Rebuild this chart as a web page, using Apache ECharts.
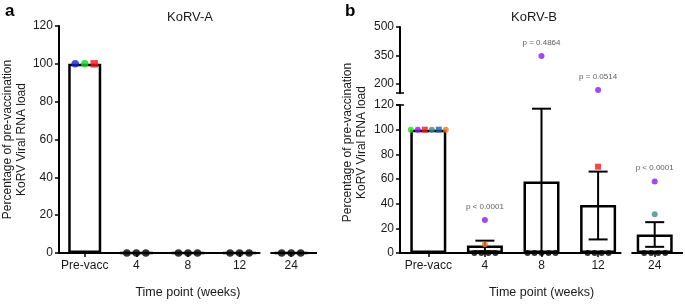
<!DOCTYPE html>
<html>
<head>
<meta charset="utf-8">
<script src="https://cdn.jsdelivr.net/npm/echarts@6/dist/echarts.min.js"></script>
<style>
  html, body { margin: 0; padding: 0; background: #fff; }
  #main { width: 685px; height: 304px; }
</style>
</head>
<body>
<div id="main"></div>
<script>
// categories (time points)
var categories = ['Pre-vacc', '4', '8', '12', '24'];

// KoRV-A : 3 animals, bar = mean
var meanA = [100, 0, 0, 0, 0];
var valuesA = [
    [100, 100, 100],
    [0, 0, 0],
    [0, 0, 0],
    [0, 0, 0],
    [0, 0, 0]
];

// KoRV-B : 6 animals, bar = mean, whiskers = SEM
var meanB = [100, 6, 58, 39, 15];
var semLowB = [null, 1.3, 0, 11, 5];
var semHighB = [null, 10, 117, 66, 25];
var valuesB = [
    [100, 100, 100, 100, 100, 100],
    [0, 26.7, 0, 0, 0, 7],
    [0, 347, 0, 0, 0, 0],
    [0, 168, 70, 0, 0, 0],
    [0, 58, 0, 31.4, 0, 0]
];
var pValuesB = [null, 'p < 0.0001', 'p = 0.4864', 'p = 0.0514', 'p < 0.0001'];

var ticksUpperB = [200, 350, 500];

// per-animal marker styles
var colorsA = ['#1020e0', '#12d424', '#f01414'];
var shapesA = ['circle', 'circle', 'rect'];
var colorsB = ['#22dd22', '#8a1af0', '#f01818', '#3c8c8c', '#1a5fb0', '#f07828'];
var shapesB = ['circle', 'circle', 'rect', 'circle', 'rect', 'circle'];

var FONT = 'Liberation Sans, Arial, sans-serif';
var TXT = '#1a1a1a';

// spread equal values side by side, like the GraphPad dot plot
function buildPoints(values, colors, shapes, spacing, size, filter) {
    var out = [];
    values.forEach(function (row, ci) {
        var groups = {};
        row.forEach(function (v, ai) {
            (groups[v] = groups[v] || []).push(ai);
        });
        Object.keys(groups).forEach(function (k) {
            var g = groups[k];
            g.forEach(function (ai, j) {
                var v = row[ai];
                if (!filter(v)) return;
                out.push({
                    value: [ci, v],
                    symbol: v === 0 ? 'circle' : shapes[ai],
                    symbolSize: size,
                    symbolOffset: [(j - (g.length - 1) / 2) * spacing, 0],
                    itemStyle: { color: v === 0 ? '#000' : colors[ai] }
                });
            });
        });
    });
    return out;
}

function errData() {
    var d = [];
    meanB.forEach(function (m, i) {
        if (semHighB[i] != null) d.push([i, m, semLowB[i], semHighB[i]]);
    });
    return d;
}

function pLabelData(upper) {
    var d = [];
    pValuesB.forEach(function (p, i) {
        if (!p) return;
        var top = Math.max.apply(null, valuesB[i].concat([semHighB[i] || 0]));
        if ((top > 120) === upper) d.push({ value: [i, top], name: p });
    });
    return d;
}

function catAxis(grid, show) {
    var on = show !== false;
    return {
        type: 'category', gridIndex: grid, data: categories,
        show: on,
        axisLine: { show: false },
        axisTick: { show: on, interval: 0, alignWithLabel: true, length: 4, lineStyle: { color: '#000', width: 1.5 } },
        axisLabel: { show: on, interval: 0, color: TXT, fontSize: 12, fontFamily: FONT, margin: 7 },
        name: on ? 'Time point (weeks)' : '',
        nameLocation: 'middle', nameGap: 33,
        nameTextStyle: { color: TXT, fontSize: 12.5, fontFamily: FONT }
    };
}

function valAxis(grid, min, max, extra) {
    var ax = {
        type: 'value', gridIndex: grid, min: min, max: max,
        splitLine: { show: false },
        axisLine: { show: true, lineStyle: { color: '#000', width: 2 } },
        axisTick: { show: true, length: 4, lineStyle: { color: '#000', width: 1.5 } },
        axisLabel: { color: TXT, fontSize: 12, fontFamily: FONT, margin: 6 }
    };
    for (var k in extra) ax[k] = extra[k];
    return ax;
}

var chart = echarts.init(document.getElementById('main'));

var errorBarSeries = {
    type: 'custom', xAxisIndex: 1, yAxisIndex: 1, z: 3,
    data: errData(),
    renderItem: function (params, api) {
        var i = api.value(0);
        var hi = api.coord([i, api.value(3)]);
        var lo = api.coord([i, api.value(2)]);
        var w = 9.5;
        var st = { stroke: '#000', lineWidth: 2 };
        return {
            type: 'group', children: [
                { type: 'line', shape: { x1: hi[0], y1: hi[1], x2: lo[0], y2: lo[1] }, style: st },
                { type: 'line', shape: { x1: hi[0] - w, y1: hi[1], x2: hi[0] + w, y2: hi[1] }, style: st },
                { type: 'line', shape: { x1: lo[0] - w, y1: lo[1], x2: lo[0] + w, y2: lo[1] }, style: st }
            ]
        };
    }
};

function pSeries(xi, yi, upper) {
    return {
        type: 'scatter', xAxisIndex: xi, yAxisIndex: yi, z: 5,
        symbolSize: 1, itemStyle: { color: 'rgba(0,0,0,0)' },
        data: pLabelData(upper),
        label: {
            show: true, position: 'top', distance: 9,
            formatter: '{b}', color: '#333', fontSize: 8, fontFamily: FONT
        }
    };
}

var barStyle = { color: 'rgba(255,255,255,0)', borderColor: '#000', borderWidth: 2.5 };

var option = {
    backgroundColor: '#fff',
    animation: false,
    title: [
        { text: 'a', left: 0, top: -2, textStyle: { fontSize: 17, fontWeight: 'bold', color: '#000', fontFamily: FONT } },
        { text: 'b', left: 340, top: -2, textStyle: { fontSize: 17, fontWeight: 'bold', color: '#000', fontFamily: FONT } },
        { text: 'KoRV-A', left: 185, top: 6, textAlign: 'center', textStyle: { fontSize: 13, fontWeight: 'normal', color: TXT, fontFamily: FONT } },
        { text: 'KoRV-B', left: 529, top: 6, textAlign: 'center', textStyle: { fontSize: 13, fontWeight: 'normal', color: TXT, fontFamily: FONT } }
    ],
    grid: [
        { left: 52, top: 26, width: 265, height: 231 },
        { left: 400, top: 105, width: 283, height: 153 },
        { left: 400, top: 27, width: 283, height: 66 },
        { left: 400, top: 27, width: 283, height: 231 }
    ],
    xAxis: [
        catAxis(0),
        catAxis(1),
        catAxis(2, false),
        { type: 'value', gridIndex: 3, show: false }
    ],
    yAxis: [
        valAxis(0, 0, 120, {
            interval: 20,
            name: 'Percentage of pre-vaccination\nKoRV Viral RNA load',
            nameLocation: 'middle', nameGap: 23,
            nameTextStyle: { color: TXT, fontSize: 12, lineHeight: 14, fontFamily: FONT }
        }),
        valAxis(1, 0, 120, { interval: 20 }),
        valAxis(2, 152, 500, {
            axisTick: { show: true, length: 4, customValues: ticksUpperB, lineStyle: { color: '#000', width: 1.5 } },
            axisLabel: { color: TXT, fontSize: 12, fontFamily: FONT, margin: 6, customValues: ticksUpperB }
        }),
        {
            type: 'value', gridIndex: 3, min: 0, max: 1,
            axisLine: { show: false }, axisTick: { show: false }, axisLabel: { show: false }, splitLine: { show: false },
            name: 'Percentage of pre-vaccination\nKoRV Viral RNA load',
            nameLocation: 'middle', nameGap: 31,
            nameTextStyle: { color: TXT, fontSize: 12, lineHeight: 14, fontFamily: FONT }
        }
    ],
    series: [
        { type: 'bar', xAxisIndex: 0, yAxisIndex: 0, barWidth: 33, data: meanA, itemStyle: barStyle, z: 2 },
        { type: 'bar', xAxisIndex: 1, yAxisIndex: 1, barWidth: 36, data: meanB, itemStyle: barStyle, z: 2 },
        errorBarSeries,
        {
            type: 'scatter', xAxisIndex: 0, yAxisIndex: 0, z: 6,
            data: buildPoints(valuesA, colorsA, shapesA, 9.5, 7.5, function () { return true; })
        },
        {
            type: 'scatter', xAxisIndex: 1, yAxisIndex: 1, z: 6,
            data: buildPoints(valuesB, colorsB, shapesB, 7, 6, function (v) { return v <= 120; })
        },
        {
            type: 'scatter', xAxisIndex: 2, yAxisIndex: 2, z: 6,
            data: buildPoints(valuesB, colorsB, shapesB, 7, 6, function (v) { return v > 120; })
        },
        pSeries(1, 1, false),
        pSeries(2, 2, true)
    ]
};

chart.setOption(option);

// x-axis lines with the break between 12 and 24, plus the y-axis break marks
function axisDecor() {
    var els = [];
    var st = { stroke: '#000', lineWidth: 2 };
    [0, 1].forEach(function (g) {
        var p0 = chart.convertToPixel({ gridIndex: g }, [0, 0]);
        var p1 = chart.convertToPixel({ gridIndex: g }, [1, 0]);
        var p3 = chart.convertToPixel({ gridIndex: g }, [3, 0]);
        var p4 = chart.convertToPixel({ gridIndex: g }, [4, 0]);
        var band = p1[0] - p0[0];
        var left = p0[0] - band / 2, right = p4[0] + band / 2;
        var mid = (p3[0] + p4[0]) / 2, y = p0[1];
        els.push({ type: 'line', z: 1, shape: { x1: left - 1, y1: y, x2: mid - 5, y2: y }, style: st });
        els.push({ type: 'line', z: 1, shape: { x1: mid + 5, y1: y, x2: right, y2: y }, style: st });
    });
    var band = chart.convertToPixel({ gridIndex: 1 }, [1, 0])[0] - chart.convertToPixel({ gridIndex: 1 }, [0, 0])[0];
    var ax = chart.convertToPixel({ gridIndex: 1 }, [0, 0])[0] - band / 2;
    var yTop = chart.convertToPixel({ gridIndex: 1 }, [0, 120])[1];
    var yBot = chart.convertToPixel({ gridIndex: 2 }, [0, 152])[1];
    [yTop, yBot].forEach(function (yy) {
        els.push({ type: 'line', z: 1, shape: { x1: ax - 4, y1: yy, x2: ax + 4, y2: yy }, style: { stroke: '#000', lineWidth: 1.5 } });
    });
    chart.setOption({ graphic: els });
}
axisDecor();

window.addEventListener('resize', function () {
    chart.resize();
    axisDecor();
});
</script>
</body>
</html>
